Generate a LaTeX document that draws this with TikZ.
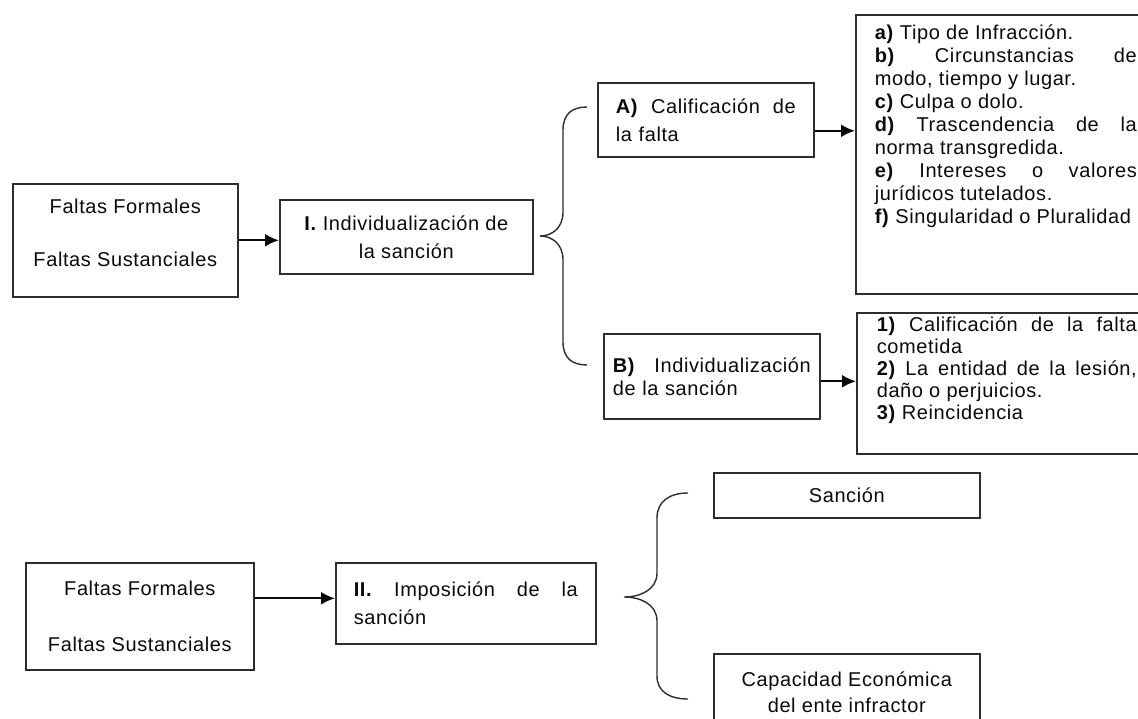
\documentclass[tikz,border=0pt]{standalone}
\usepackage{fontspec}
\setmainfont{Liberation Sans}[LetterSpace=3]
\usetikzlibrary{arrows.meta,positioning,calc}
\definecolor{SancLine}{HTML}{2E2E2E}
\definecolor{SancInk}{HTML}{0A0A0A}
\tikzset{
  sbox/.style={draw=SancLine, line width=1.6pt, anchor=north west, inner ysep=0pt,
               font=\fontsize{20}{23}\selectfont, text=SancInk},
  lowbox/.style={sbox, font=\fontsize{20}{26}\selectfont},
  arrow/.style={-{Latex[length=14pt,width=13pt]}, line width=2.2pt, SancInk},
  brace/.style={line width=1.4pt, SancLine},
}

\begin{document}
\begin{tikzpicture}[x=1pt,y=-1pt]
  \useasboundingbox (0,0) rectangle (1138,719);

  % I. individualizacion
  \node[sbox, minimum width=225pt, minimum height=113pt, align=center] (ff1) at (12,183)
       {Faltas Formales\\[30pt]Faltas Sustanciales\\[-8pt]\mbox{}};
  \node[sbox, minimum width=253pt, minimum height=74pt, align=center] (indiv) at (279,199)
       {\textbf{I.} Individualización de\\[5pt]la sanción};
  \node[sbox, text width=180pt, inner xsep=18pt, minimum height=74pt, align=left] (calif) at (597,82)
       {\textbf{A)}\hfill Calificación\hfill de\\[5pt]la falta};
  \node[sbox, text width=198pt, inner xsep=9pt, minimum height=85pt, align=left] (indB) at (603,333)
       {\textbf{B)}\hfill Individualización\\de la sanción};

  \node[sbox, inner xsep=18pt, inner ysep=9.5pt, minimum width=300pt] (crit) at (855,14)
       {\parbox[t][260pt][t]{262pt}{%
        \textbf{a)} Tipo de Infracción.\\
        \textbf{b)}\hfill Circunstancias\hfill de\\
        modo, tiempo y lugar.\\
        \textbf{c)} Culpa o dolo.\\
        \textbf{d)}\hfill Trascendencia\hfill de\hfill la\\
        norma transgredida.\\
        \textbf{e)}\hfill Intereses\hfill o\hfill valores\\
        jurídicos tutelados.\\
        \textbf{f)} Singularidad o Pluralidad}};
  \node[sbox, inner xsep=9pt, inner ysep=4pt, minimum width=300pt] (fact) at (856,312)
       {\parbox[t][133pt][t]{260pt}{\fontsize{20}{22}\selectfont
        \textbf{1)}\hfill Calificación\hfill de\hfill la\hfill falta\\
        cometida\\
        \textbf{2)}\hfill La\hfill entidad\hfill de\hfill la\hfill lesión,\\
        daño o perjuicios.\\
        \textbf{3)} Reincidencia}};

  \draw[arrow] (ff1.east) -- (ff1.east -| indiv.west);
  \draw[arrow] ([yshift=-11pt]calif.east) -- ([yshift=-11pt]calif.east -| crit.west);
  \draw[arrow] ([yshift=-5pt]indB.east) -- ([yshift=-5pt]indB.east -| fact.west);

  \draw[brace] (587,107) .. controls (572,107) and (563,114) .. (563,130) -- (563,212)
    .. controls (563,228) and (552,236) .. (540,236)
    .. controls (552,236) and (563,244) .. (563,260) -- (563,342)
    .. controls (563,358) and (572,365) .. (587,365);

  % II. imposicion
  \node[lowbox, minimum width=228pt, minimum height=107pt, align=center] (ff2) at (25,562)
       {Faltas Formales\\[30pt]Faltas Sustanciales};
  \node[lowbox, text width=224pt, inner xsep=18pt, minimum height=81pt, align=left] (impo) at (335,562)
       {\textbf{II.}\hfill Imposición\hfill de\hfill la\\[2pt]sanción};
  \node[lowbox, minimum width=266pt, minimum height=45pt] (sanc) at (713,472) {Sanción};
  \node[lowbox, minimum width=266pt, minimum height=76pt, align=center] (capec) at (713,653)
       {Capacidad Económica\\del ente infractor};

  \draw[arrow] ([yshift=5pt]impo.west -| ff2.east) -- ([yshift=5pt]impo.west);

  \draw[brace] (688,493) .. controls (670,493) and (657,501) .. (657,518) -- (657,573)
    .. controls (657,590) and (640,597) .. (624,597)
    .. controls (640,597) and (657,604) .. (657,621) -- (657,676)
    .. controls (657,692) and (670,699) .. (688,699);

\end{tikzpicture}
\end{document}
